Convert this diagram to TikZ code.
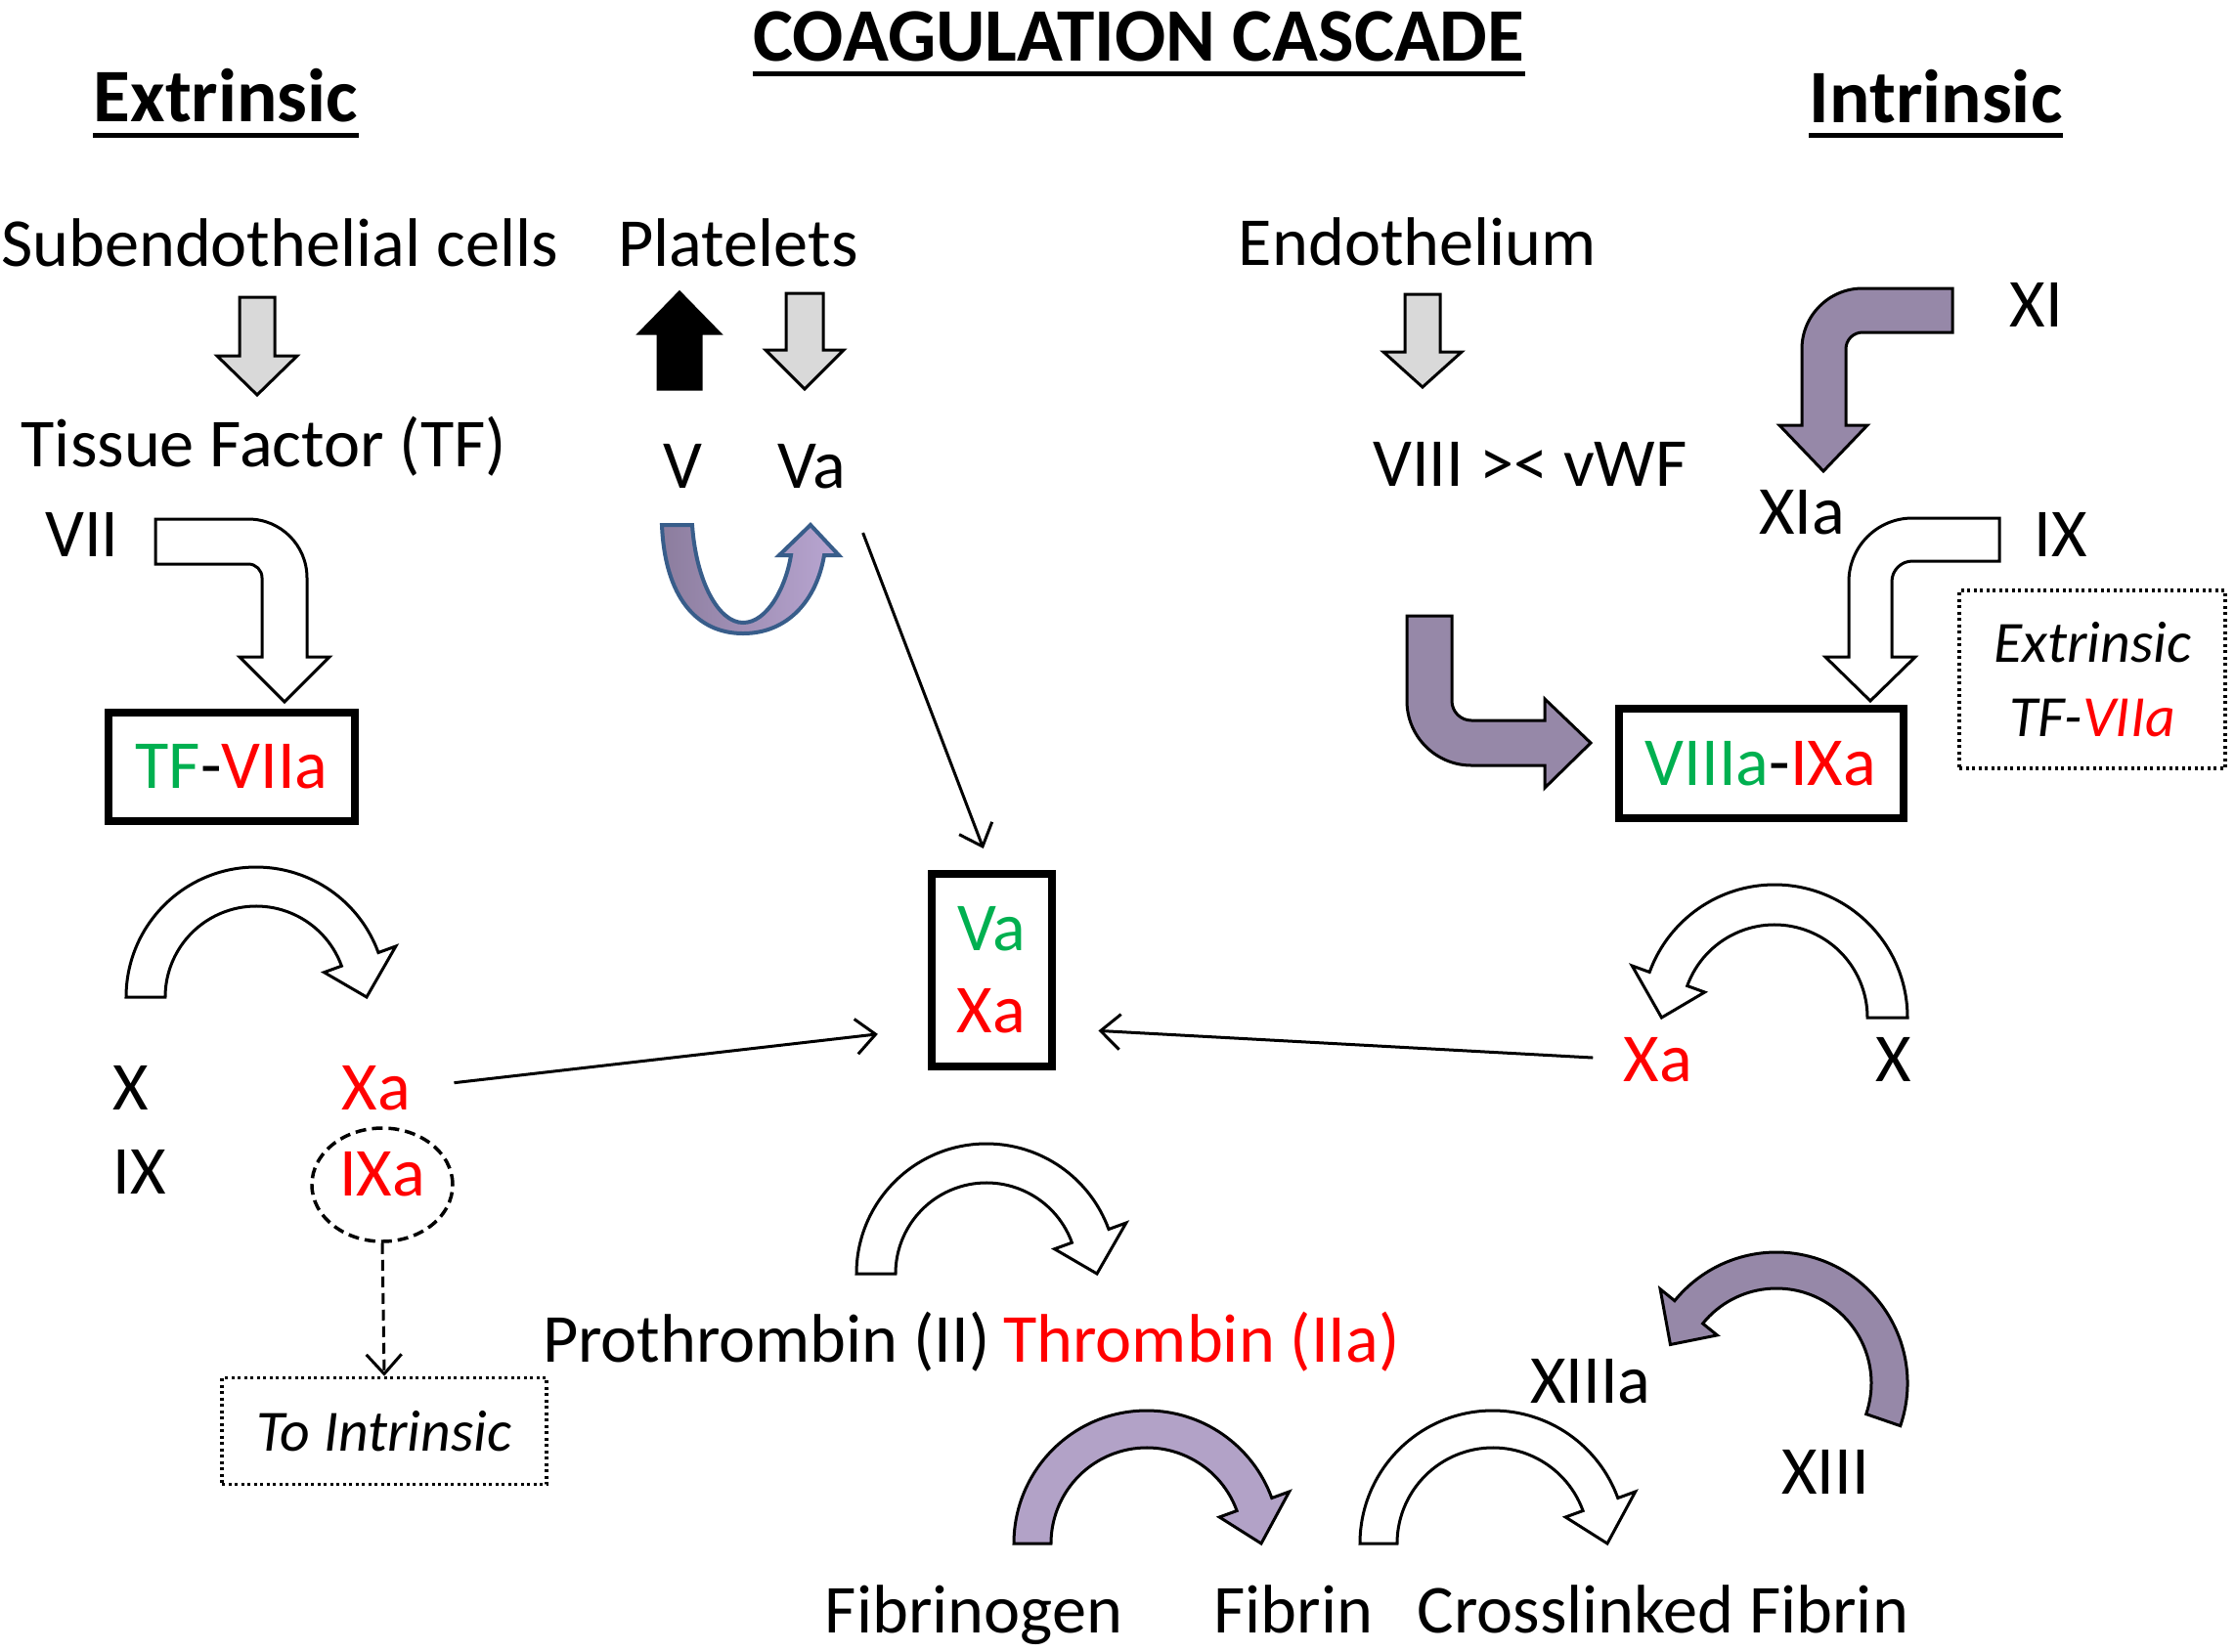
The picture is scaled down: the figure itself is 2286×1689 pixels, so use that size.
\documentclass[tikz,border=0pt]{standalone}
\usepackage{fontspec}
\setmainfont{Carlito}
\usetikzlibrary{arrows.meta,shapes.geometric,calc}
\definecolor{ggreen}{RGB}{0,176,80}
\definecolor{rred}{RGB}{255,0,0}
\definecolor{lgray}{RGB}{217,217,217}
\definecolor{ppurple}{RGB}{150,136,168}
\definecolor{lav}{RGB}{178,162,199}
\definecolor{ublue}{RGB}{56,93,138}
\definecolor{umauveA}{RGB}{140,125,158}
\definecolor{umauveB}{RGB}{185,166,210}
% straight block arrow: cx, y tail, y head base, y tip, half shaft, half head, style
\newcommand{\blockarr}[7]{\path[#7] ({#1-#5},#2) -- ({#1+#5},#2) -- ({#1+#5},#3) -- ({#1+#6},#3) -- (#1,#4) -- ({#1-#6},#3) -- ({#1-#5},#3) -- cycle;}
% curved block arrow: cx, cy, r in, r out, start angle, end angle, signed tip angle, style
\newcommand{\curvarr}[8]{\begin{scope}[shift={(#1,#2)},yscale=-1]
\path[#8] ({#5}:{#4}) arc[start angle=#5,end angle=#6,radius=#4] -- ({#6}:{#4+19}) -- ({#6+#7}:{(#3+#4)/2}) -- ({#6}:{#3-19}) -- ({#6}:{#3}) arc[start angle=#6,end angle=#5,radius=#3] -- cycle;
\end{scope}}
\begin{document}
\begin{tikzpicture}[x=0.1mm,y=-0.1mm,
  txt/.style={inner sep=0pt,anchor=base,font=\fontsize{20}{24}\selectfont},
  hdr/.style={inner sep=0pt,anchor=base,font=\fontsize{22}{26}\selectfont\bfseries},
  cbox/.style={draw,line width=0.8mm,inner sep=0pt,align=center,font=\fontsize{20}{23.9}\selectfont},
  dotbox/.style={draw,line width=0.35mm,dash pattern=on 0.3mm off 0.35mm,inner sep=0pt,align=center,font=\fontsize{17}{21.6}\selectfont\itshape},
  garrow/.style={draw=black,fill=lgray,line width=0.3mm},
  warrow/.style={draw=black,fill=white,line width=0.3mm},
  parrow/.style={draw=black,fill=ppurple,line width=0.3mm},
  lavarrow/.style={draw=black,fill=lav,line width=0.3mm},
  uline/.style={line width=0.5mm},
  conn/.style={line width=0.3mm,-{Straight Barb[length=2mm,width=3.6mm,line width=0.3mm]}}]
\useasboundingbox (0,0) rectangle (2286,1689);

% headings
\node[hdr] (title) at (1165,62) {COAGULATION CASCADE};
\node[hdr] (extr) at (231,124) {Extrinsic};
\node[hdr] (intr) at (1980,125) {Intrinsic};
\draw[uline] ($(title.base west)+(0,13)$) -- ($(title.base east)+(0,13)$);
\draw[uline] ($(extr.base west)+(0,14)$) -- ($(extr.base east)+(0,14)$);
\draw[uline] ($(intr.base west)+(0,13)$) -- ($(intr.base east)+(0,13)$);

% sources
\node[txt] (sub) at (286,272) {Subendothelial cells};
\node[txt] (plt) at (755,272) {Platelets};
\node[txt] (endo) at (1450,271) {Endothelium};

% straight block arrows
\blockarr{263}{304}{364}{404}{18}{41}{garrow}
\blockarr{823}{300}{358}{398}{19}{40}{garrow}
\blockarr{1455}{301}{360}{396}{18}{40}{garrow}
\blockarr{695}{398}{341}{299}{22}{41}{draw=black,fill=black,line width=0.3mm}

\node[txt] (tf) at (270,477) {Tissue Factor (TF)};
\node[txt] (v) at (698,499) {V};
\node[txt] (va) at (830,499) {Va};
\node[txt] (vii) at (84,569) {VII};
\node[txt] (viii) at (1565,497) {VIII >< vWF};
\node[txt] (xi) at (2083,334) {XI};
\node[txt] (xia) at (1843,546) {XIa};
\node[txt] (ixr) at (2108,569) {IX};

% bent arrows
\path[warrow] (159,531) -- (254,531) arc[start angle=270,end angle=360,radius=60] -- (314,672) -- (337,672) -- (291,718) -- (245,672) -- (268,672) -- (268,591) arc[start angle=0,end angle=-90,radius=14] -- (159,577) -- cycle;
\path[parrow] (1997,295) -- (1905,295) arc[start angle=270,end angle=180,radius=62] -- (1843,435) -- (1820,435) -- (1865,482) -- (1910,435) -- (1888,435) -- (1888,357) arc[start angle=180,end angle=270,radius=17] -- (1997,340) -- cycle;
\path[warrow] (2045,530) -- (1956,530) arc[start angle=270,end angle=180,radius=65] -- (1891,672) -- (1867,672) -- (1913,717) -- (1959,672) -- (1935,672) -- (1935,595) arc[start angle=180,end angle=270,radius=21] -- (2045,574) -- cycle;
\path[parrow] (1439,630) -- (1485,630) -- (1485,717) arc[start angle=180,end angle=90,radius=20] -- (1580,737) -- (1580,715) -- (1627,760) -- (1580,806) -- (1580,783) -- (1505,783) arc[start angle=90,end angle=180,radius=66] -- cycle;

% U-turn arrow V -> Va
\path[draw=ublue,line width=0.4mm,left color=umauveA,right color=umauveB] (677,537) -- (708,537) .. controls (712,595) and (735,637) .. (760,637) .. controls (785,637) and (804,600) .. (809,568) -- (797,568) -- (829,537) -- (858,568) -- (843,568) .. controls (835,615) and (805,648) .. (760,648) .. controls (712,648) and (680,610) .. (677,537) -- cycle;

% complexes
\node[cbox,minimum width=25.2mm,minimum height=11.1mm] (tfvii) at (237,784) {\textcolor{ggreen}{TF}-\textcolor{rred}{VIIa}};
\node[cbox,minimum width=29.1mm,minimum height=11.2mm] (viiiix) at (1801,781) {\textcolor{ggreen}{VIIIa}-\textcolor{rred}{IXa}};
\node[cbox,minimum width=12.3mm,minimum height=19.7mm] (vaxa) at (1014,992) {\textcolor{ggreen}{Va}\\\textcolor{rred}{Xa}};
\node[dotbox,minimum width=27.2mm,minimum height=18.2mm] (extbox) at (2140,695) {Extrinsic\\TF-\textcolor{rred}{VIIa}};

% curved arrows
\curvarr{262}{1020}{93}{133}{180}{20}{-20}{warrow}
\curvarr{1009}{1303}{93}{133}{180}{20}{-20}{warrow}
\curvarr{1815}{1041}{95}{136}{0}{160}{20}{warrow}
\curvarr{1817}{1415}{97}{134}{-19}{141}{19}{parrow}
\curvarr{1173}{1579}{98}{136}{180}{20}{-20}{lavarrow}
\curvarr{1527}{1579}{98}{136}{180}{20}{-20}{warrow}

% factors
\node[txt] (xl) at (134,1135) {X};
\node[txt,text=rred] (xal) at (385,1135) {Xa};
\node[txt] (ixl) at (143,1221) {IX};
\node[ellipse,draw,line width=0.35mm,dash pattern=on 1.1mm off 0.6mm,inner sep=0pt,minimum width=14.4mm,minimum height=11.6mm,font=\fontsize{20}{24}\selectfont,text=rred,text height=12.8pt,text depth=6.5pt] (ixa) at (391,1212) {IXa};
\node[dotbox,minimum width=33.2mm,minimum height=10.9mm] (toint) at (393,1464) {To Intrinsic};
\node[txt,text=rred] (xar) at (1696,1106) {Xa};
\node[txt] (xr) at (1937,1106) {X};
\node[txt] (pro) at (784,1393) {Prothrombin (II)};
\node[txt,text=rred] (thr) at (1229,1393) {Thrombin (IIa)};
\node[txt] (xiiia) at (1627,1435) {XIIIa};
\node[txt] (xiii) at (1867,1528) {XIII};
\node[txt] (fibg) at (996,1670) {Fibrinogen};
\node[txt] (fib) at (1323,1670) {Fibrin};
\node[txt] (cross) at (1701,1670) {Crosslinked Fibrin};

% connectors
\coordinate (vaxaL) at ($(vaxa.west)+(0,60)$);
\coordinate (vaxaR) at ($(vaxa.east)+(0,60)$);
\draw[conn,shorten <=4.8mm,shorten >=2.3mm] (va.south east) -- (vaxa.north);
\draw[conn,shorten <=4.4mm,shorten >=5.1mm] (xal.east) -- (vaxaL);
\draw[conn,shorten <=3.1mm,shorten >=4.4mm] (xar.west) -- (vaxaR);
\draw[conn,dash pattern=on 1.1mm off 0.6mm] (ixa.south) -- (toint.north);
\end{tikzpicture}
\end{document}
